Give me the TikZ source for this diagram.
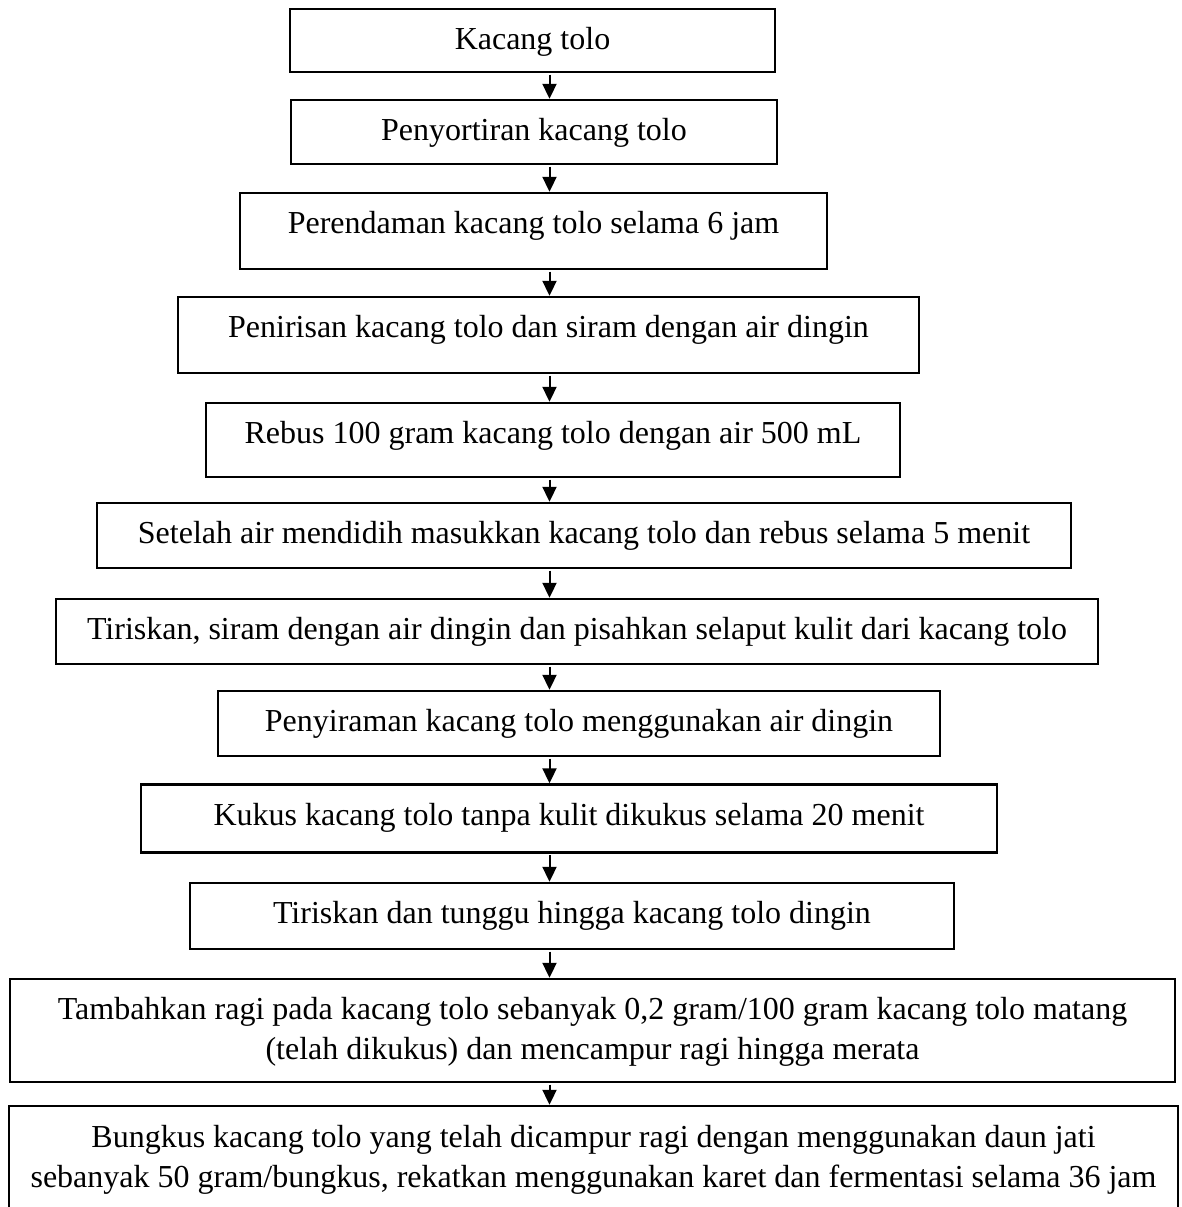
\documentclass[tikz,border=0pt]{standalone}
\usepackage{fontspec}
\setmainfont{Liberation Serif}
\usetikzlibrary{arrows.meta}
\begin{document}
\begin{tikzpicture}[x=1pt,y=-1pt,
  box/.style={draw=black,line width=2.4pt,rectangle,inner sep=0pt},
  lbl/.style={anchor=base,inner sep=0pt,font=\fontsize{32}{40}\selectfont},
  arr/.style={line width=2pt,-{Triangle[length=15pt,width=14pt]},shorten <=1.5pt}]
\useasboundingbox (0,0) rectangle (1181,1207);
\fill[white] (0,0) rectangle (1181,1207);
\coordinate (ax) at (549.5,0);
% boxes
\node[box,minimum width=485pt,minimum height=63pt] (b1) at (532.5,40.5) {};
\node[box,minimum width=486pt,minimum height=64pt] (b2) at (534,132) {};
\node[box,minimum width=587pt,minimum height=76pt] (b3) at (533.5,231) {};
\node[box,minimum width=741pt,minimum height=76pt] (b4) at (548.5,335) {};
\node[box,minimum width=694pt,minimum height=74pt] (b5) at (553,440) {};
\node[box,minimum width=974pt,minimum height=65pt] (b6) at (584,535.5) {};
\node[box,minimum width=1042pt,minimum height=65pt] (b7) at (577,631.5) {};
\node[box,minimum width=722pt,minimum height=65pt] (b8) at (579,723.5) {};
\node[box,minimum width=856pt,minimum height=68pt] (b9) at (569,818.5) {};
\node[box,minimum width=764pt,minimum height=66pt] (b10) at (572,916) {};
\node[box,minimum width=1165pt,minimum height=103pt] (b11) at (592.5,1030.5) {};
\node[box,minimum width=1169pt,minimum height=124pt] (b12) at (593.5,1168) {};
% texts
\node[lbl] (t1) at (532.5,49) {Kacang tolo};
\node[lbl] (t2) at (534,140) {Penyortiran kacang tolo};
\node[lbl] (t3) at (533.5,233) {Perendaman kacang tolo selama 6 jam};
\node[lbl] (t4) at (548.5,337) {Penirisan kacang tolo dan siram dengan air dingin};
\node[lbl] (t5) at (553,443) {Rebus 100 gram kacang tolo dengan air 500 mL};
\node[lbl] (t6) at (584,543) {Setelah air mendidih masukkan kacang tolo dan rebus selama 5 menit};
\node[lbl] (t7) at (577,639) {Tiriskan, siram dengan air dingin dan pisahkan selaput kulit dari kacang tolo};
\node[lbl] (t8) at (579,731) {Penyiraman kacang tolo menggunakan air dingin};
\node[lbl] (t9) at (569,825) {Kukus kacang tolo tanpa kulit dikukus selama 20 menit};
\node[lbl] (t10) at (572,923) {Tiriskan dan tunggu hingga kacang tolo dingin};
\node[lbl] (t11a) at (592.5,1019) {Tambahkan ragi pada kacang tolo sebanyak 0,2 gram/100 gram kacang tolo matang};
\node[lbl] (t11b) at (592.5,1059) {(telah dikukus) dan mencampur ragi hingga merata};
\node[lbl] (t12a) at (593.5,1147) {Bungkus kacang tolo yang telah dicampur ragi dengan menggunakan daun jati};
\node[lbl] (t12b) at (593.5,1187) {sebanyak 50 gram/bungkus, rekatkan menggunakan karet dan fermentasi selama 36 jam};
% arrows
\foreach \a/\b in {b1/b2,b2/b3,b3/b4,b4/b5,b5/b6,b6/b7,b7/b8,b8/b9,b9/b10,b10/b11,b11/b12}{
  \draw[arr] (\a.south -| ax) -- (\b.north -| ax);
}
\end{tikzpicture}
\end{document}
